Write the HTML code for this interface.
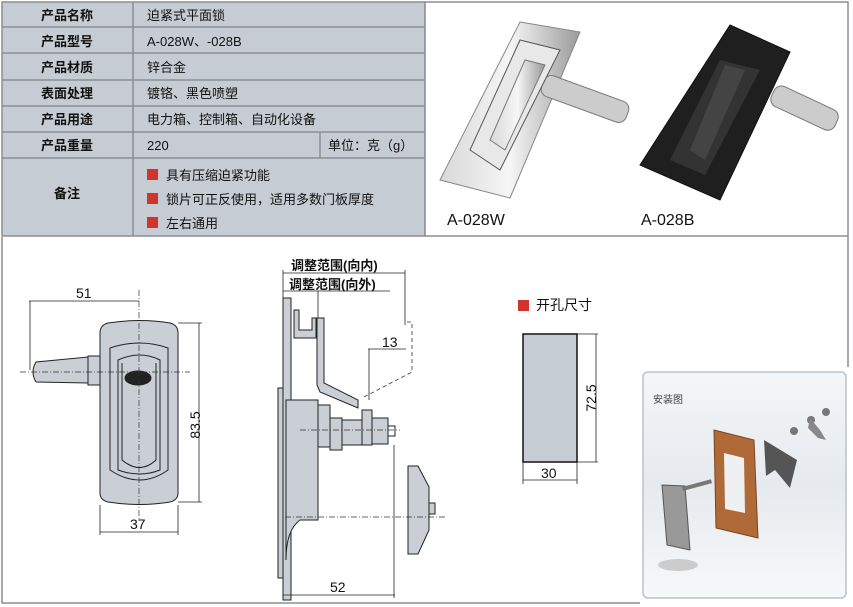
<!DOCTYPE html>
<html><head><meta charset="utf-8"><style>
body{margin:0;background:#fff;width:853px;height:607px;overflow:hidden;font-family:"Liberation Sans","Noto Sans CJK SC",sans-serif}
</style></head><body>
<svg width="853" height="607" viewBox="0 0 853 607" xmlns="http://www.w3.org/2000/svg" style="position:absolute;left:0;top:0">
<defs>
<linearGradient id="inst" x1="0" y1="0" x2="0" y2="1"><stop offset="0" stop-color="#f4f6f8"/><stop offset="0.5" stop-color="#e6eaee"/><stop offset="1" stop-color="#f7f8f9"/></linearGradient>
<linearGradient id="chrome" x1="0" y1="0" x2="1" y2="0"><stop offset="0" stop-color="#d8d8d8"/><stop offset="0.5" stop-color="#f6f6f6"/><stop offset="1" stop-color="#9a9a9a"/></linearGradient>
</defs>
<g font-family="Liberation Sans, Noto Sans CJK SC, sans-serif">
<!-- table -->
<rect x="2" y="2" width="423" height="234" fill="#c5ccd3" stroke="#8a8f95" stroke-width="1.5"/>
<g stroke="#8a8f95" stroke-width="1.5">
<line x1="2" y1="27" x2="425" y2="27"/><line x1="2" y1="53" x2="425" y2="53"/><line x1="2" y1="80" x2="425" y2="80"/>
<line x1="2" y1="106" x2="425" y2="106"/><line x1="2" y1="132" x2="425" y2="132"/><line x1="2" y1="158" x2="425" y2="158"/>
<line x1="133" y1="2" x2="133" y2="236"/><line x1="320" y1="132" x2="320" y2="158"/>
</g>
<g font-size="13" font-weight="bold" fill="#111" text-anchor="middle">
<text x="67" y="20">产品名称</text><text x="67" y="46">产品型号</text><text x="67" y="72">产品材质</text>
<text x="67" y="98">表面处理</text><text x="67" y="124">产品用途</text><text x="67" y="150">产品重量</text><text x="67" y="198">备注</text>
</g>
<g font-size="13" fill="#111">
<text x="147" y="20">迫紧式平面锁</text><text x="147" y="46">A-028W、-028B</text><text x="147" y="72">锌合金</text>
<text x="147" y="98">镀铬、黑色喷塑</text><text x="147" y="124">电力箱、控制箱、自动化设备</text><text x="147" y="150">220</text>
<text x="328" y="150">单位：克（g）</text>
<rect x="147" y="169" width="11" height="11" fill="#d0342c"/><text x="166" y="180">具有压缩迫紧功能</text>
<rect x="147" y="193" width="11" height="11" fill="#d0342c"/><text x="166" y="204">锁片可正反使用，适用多数门板厚度</text>
<rect x="147" y="217" width="11" height="11" fill="#d0342c"/><text x="166" y="228">左右通用</text>
</g>
<!-- photo area -->
<rect x="425" y="2" width="423" height="234" fill="#fff" stroke="#8a8f95" stroke-width="1.5"/>
<g>
<polygon points="520,22 580,32 510,198 440,180" fill="url(#chrome)" stroke="#888"/>
<rect x="540" y="88" width="90" height="22" rx="8" transform="rotate(20 585 99)" fill="#ccc" stroke="#777"/>
<polygon points="470,150 520,40 560,50 500,170" fill="#e8e8e8" stroke="#555"/>
<polygon points="490,140 525,60 545,65 505,150" fill="url(#chrome)" stroke="#777"/>
<polygon points="730,25 790,52 720,200 640,165" fill="#1f1f1f" stroke="#111"/>
<rect x="770" y="95" width="70" height="22" rx="8" transform="rotate(25 800 106)" fill="#ccc" stroke="#777"/>
<polygon points="670,160 720,60 760,70 705,175" fill="#333"/>
<polygon points="690,150 725,65 745,70 705,160" fill="#444"/>
</g>
<g font-size="16" fill="#111"><text x="447" y="225">A-028W</text><text x="641" y="225">A-028B</text></g>
<!-- bottom frame -->
<path d="M2 237 V603 H640 M848 236 V367" fill="none" stroke="#8a8f95" stroke-width="1.5"/>
<!-- front view -->
<g stroke="#222" stroke-width="1" fill="#c9cfd5">
<path d="M36 362 Q30 372 36 382 L88 383 L88 357 Z"/>
<rect x="88" y="356" width="12" height="29"/>
<path d="M100 333 Q100 325 108 323 Q140 318 170 323 Q178 325 178 333 V493 Q178 500 170 502 Q140 507 108 502 Q100 500 100 493 Z"/>
<path d="M110 348 Q140 338 168 348 V470 Q140 490 110 470 Z" fill="#c9cfd5"/>
<path d="M118 360 Q140 350 160 360 V470 Q140 478 118 470 Z"/>
<path d="M122 363 V460 Q140 475 156 460 V363"/>
<ellipse cx="138" cy="378" rx="13" ry="7" fill="#222"/>
</g>
<g stroke="#333" stroke-width="0.7" stroke-dasharray="6,2,1,2" fill="none">
<line x1="20" y1="372" x2="190" y2="372"/><line x1="139" y1="290" x2="139" y2="520"/>
</g>
<g stroke="#222" stroke-width="0.8" fill="none">
<line x1="29" y1="301" x2="139" y2="301"/><line x1="30" y1="301" x2="30" y2="370"/>
<line x1="100" y1="505" x2="100" y2="535"/><line x1="178" y1="505" x2="178" y2="535"/><line x1="100" y1="532" x2="178" y2="532"/>
<line x1="178" y1="323" x2="202" y2="323"/><line x1="178" y1="502" x2="202" y2="502"/><line x1="199" y1="323" x2="199" y2="502"/>
</g>
<g font-size="14" fill="#111"><text x="76" y="298">51</text><text x="130" y="529">37</text>
<text x="200" y="425" transform="rotate(-90 200 425)" text-anchor="middle">83.5</text></g>
<!-- side view -->
<g stroke="#222" stroke-width="1" fill="#c9cfd5">
<rect x="278" y="388" width="8" height="190"/>
<rect x="283" y="298" width="8" height="302"/>
<path d="M286 400 H318 V520 H300 Q286 530 286 560 Z"/>
<rect x="318" y="405" width="12" height="42"/>
<rect x="330" y="418" width="12" height="32"/><rect x="342" y="420" width="20" height="25"/>
<rect x="362" y="410" width="10" height="35"/><rect x="372" y="418" width="16" height="26"/>
<path d="M388 426 H395 V436 H388" fill="none"/>
<path d="M294 310 H299 V330 H312 V318 H316 V338 H294 Z"/>
<path d="M317 318 H324 V383 L358 400 L358 408 L320 392 L317 385 Z"/>
<path d="M408 466 H418 L429 487 V530 L418 554 H408 Z"/>
<rect x="429" y="503" width="6" height="11"/>
</g>
<g stroke="#333" stroke-width="0.8" stroke-dasharray="4,3" fill="none">
<path d="M407 322 H412 V372 L362 398"/>
</g>
<g stroke="#333" stroke-width="0.7" stroke-dasharray="6,2,1,2" fill="none">
<line x1="300" y1="430" x2="400" y2="430"/><line x1="285" y1="517" x2="445" y2="517"/>
</g>
<g stroke="#222" stroke-width="0.8" fill="none">
<line x1="283" y1="270" x2="283" y2="300"/><line x1="283" y1="273" x2="405" y2="273"/><line x1="405" y1="270" x2="405" y2="325"/>
<line x1="283" y1="291" x2="390" y2="291"/><line x1="318" y1="291" x2="318" y2="318"/>
<line x1="368" y1="349" x2="406" y2="349"/><line x1="369" y1="349" x2="369" y2="400"/>
<line x1="283" y1="595" x2="395" y2="595"/><line x1="283" y1="578" x2="283" y2="598"/><line x1="394" y1="445" x2="394" y2="598"/>
</g>
<g font-size="13" fill="#111" font-weight="bold"><text x="291" y="270">调整范围(向内)</text><text x="289" y="289">调整范围(向外)</text></g>
<g font-size="14" fill="#111"><text x="382" y="347">13</text><text x="330" y="592">52</text></g>
<!-- cutout -->
<rect x="518" y="300" width="11" height="11" fill="#d0342c"/>
<text x="536" y="310" font-size="14" fill="#111">开孔尺寸</text>
<rect x="523" y="334" width="54" height="128" fill="#c5ccd3" stroke="#111" stroke-width="1.5"/>
<g stroke="#222" stroke-width="0.8" fill="none">
<line x1="577" y1="334" x2="598" y2="334"/><line x1="596" y1="334" x2="596" y2="462"/><line x1="577" y1="462" x2="598" y2="462"/>
<line x1="523" y1="462" x2="523" y2="484"/><line x1="577" y1="462" x2="577" y2="484"/><line x1="523" y1="480" x2="577" y2="480"/>
</g>
<g font-size="14" fill="#111"><text x="541" y="478">30</text><text x="596" y="398" transform="rotate(-90 596 398)" text-anchor="middle">72.5</text></g>
<!-- install -->
<rect x="643" y="372" width="203" height="226" rx="5" fill="url(#inst)" stroke="#b9c3cc" stroke-width="1.5"/>
<text x="653" y="403" font-size="10" fill="#444">安装图</text>
<polygon points="714,430 754,440 758,538 716,528" fill="#b06a38" stroke="#7a4520"/>
<polygon points="724,453 744,458 745,513 725,509" fill="#eef0f2"/>
<polygon points="764,440 797,460 790,488 775,470 766,476" fill="#555"/>
<polygon points="662,485 685,486 690,550 667,545" fill="#999" stroke="#555"/>
<rect x="682" y="487" width="30" height="4" fill="#777" transform="rotate(-15 682 487)"/>
<ellipse cx="678" cy="565" rx="20" ry="6" fill="#ccc"/>
<circle cx="794" cy="431" r="4" fill="#777"/><circle cx="811" cy="420" r="4" fill="#777"/><circle cx="826" cy="412" r="4" fill="#777"/>
<polygon points="810,418 820,430 826,440 818,438 808,428" fill="#888"/>
</g>
</svg>
</body></html>
